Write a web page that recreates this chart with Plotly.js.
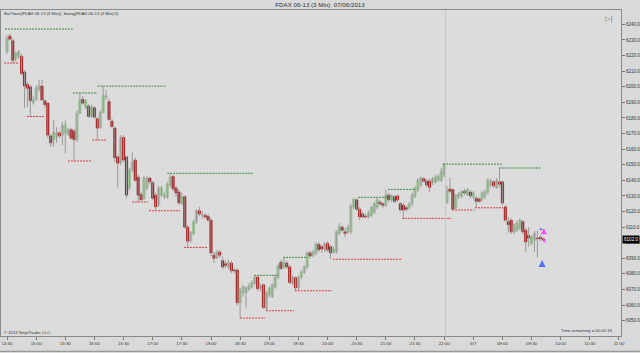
<!DOCTYPE html>
<html><head><meta charset="utf-8">
<script src="https://cdn.plot.ly/plotly-3.0.1.min.js"></script>
<style>html,body{margin:0;padding:0;background:#d9d9d9;} #chart{width:640px;height:353px;}</style>
</head><body><div id="chart"></div>
<script>
// 3-minute FDAX 06-13 bars, 14:30 (6 Jun) .. 09:42 (7 Jun)
const opens = [6222.5,6232.5,6229.5,6218,6219.5,6219.5,6209.5,6201.5,6200,6190,6192,6198,6200.5,6191,6189.5,6168.5,6166,6168,6170.5,6169,6170.5,6169.5,6172.5,6171.5,6166,6183,6192,6187,6187.5,6181,6186.5,6179.5,6174,6183.5,6193.5,6190.5,6178,6173.5,6155,6151.5,6167.5,6155,6135.5,6146.5,6153,6142,6131,6128.5,6135.5,6141.5,6138.5,6130.5,6124,6130.5,6129.5,6129.5,6137,6142.5,6135,6132.5,6125.5,6129.5,6110,6101.5,6106,6113.5,6120.5,6117.5,6117.5,6117,6114.5,6092,6090.5,6094,6088.5,6086.5,6084.5,6087,6082.5,6082.5,6061.5,6068,6068,6070.5,6071.5,6074,6078,6071,6073,6057.5,6066.5,6065.5,6071.5,6078,6087.5,6084.5,6087,6084.5,6074,6077.5,6071,6078,6081,6084.5,6093.5,6092,6093.5,6099,6097.5,6095.5,6099.5,6097.5,6094,6094,6106,6110,6107,6107,6107,6123,6127.5,6121.5,6118.5,6117,6116.5,6117.5,6119.5,6123,6126,6125,6124,6130.5,6127.5,6129.5,6130,6125,6124,6122.5,6122.5,6125,6130,6134,6137,6141,6139.5,6139.5,6138.5,6139,6140,6140,6143.5,
6126,6134.5,6134,6122.5,6129.5,6130,6133,6131,6132.5,6129.5,6128.5,6128,6128,6129.5,6132.5,6137,6139,6135.5,6139,6139,6123,6113.5,6114.5,6107,6108,6109.5,6113.5,6108,6104.5,6099.5,6101.5,6103,6103.5,6102.5];
const highs = [6233,6234,6231,6222.5,6223.5,6221,6210.5,6203,6201,6194,6201,6204.5,6204.5,6192,6190,6169.5,6178.5,6174,6171.5,6177.5,6178.5,6173.5,6173.5,6173,6185,6196,6194,6192,6189,6188.5,6187.5,6180.5,6185,6200.5,6198,6192.5,6179.5,6174.5,6156,6169,6169,6156,6148,6158,6154.5,6143.5,6132.5,6143,6142.5,6142,6139.5,6132,6136.5,6136.5,6132.5,6139,6144.5,6143.5,6136.5,6134,6132,6130.5,6111.5,6107.5,6114.5,6121.5,6123,6120.5,6119,6118.5,6116,6094,6095.5,6095.5,6091,6088.5,6089,6088.5,6083.5,6083.5,6071,6073,6072,6074,6076,6079,6078.5,6074,6074,6069,6072,6074,6079,6086.5,6089,6090.5,6088.5,6085.5,6079,6078.5,6079,6082.5,6085.5,6094.5,6094.5,6095.5,6100.5,6100.5,6098.5,6100.5,6101,6098.5,6097.5,6108,6112.5,6111.5,6109.5,6111.5,6125,6129,6128.5,6123,6120,6118.5,6120.5,6123.5,6126,6128.5,6127.5,6126,6134,6132,6131,6130.5,6131,6126,6125.5,6124,6126,6132,6136.5,6141.5,6142.5,6142,6141,6141,6142,6143.5,6144,6148,6151,
6136.5,6141.5,6135,6131,6132.5,6134,6134.5,6135,6134,6133,6130,6129.5,6133,6134,6141.5,6141,6140,6141.5,6148,6140,6124,6116.5,6115.5,6112.5,6114,6115.5,6114.5,6109.5,6110,6105,6107.5,6108,6105,6103.5];
const lows = [6221,6229.5,6215,6216,6218,6207.5,6186.5,6187,6181,6188.5,6191,6197,6191,6186.5,6167,6161.5,6161.5,6164,6167,6162.5,6157.5,6168.5,6166,6152.5,6164.5,6182.5,6188.5,6185.5,6180,6180,6179.5,6166,6173,6183,6191.5,6178,6173.5,6151.5,6135.5,6149.5,6151.5,6128.5,6133.5,6145.5,6139,6126,6127,6127.5,6133.5,6137.5,6127.5,6120.5,6123,6129.5,6128,6128,6135.5,6133,6129.5,6124,6124,6109,6097,6100,6105,6112,6117,6115.5,6115.5,6113.5,6091.5,6087,6089.5,6090.5,6083,6083.5,6083,6080.5,6080.5,6059.5,6051.5,6065.5,6058.5,6069,6070.5,6073,6069,6069,6057.5,6056.5,6065,6064.5,6070.5,6076.5,6082.5,6083,6083,6073.5,6073,6069,6069.5,6076.5,6080,6083,6090,6090.5,6092,6094,6093.5,6094,6094,6089.5,6093,6093,6105,6107,6103.5,6105.5,6105.5,6121.5,6120.5,6114.5,6115.5,6115.5,6115.5,6116.5,6118.5,6121.5,6123.5,6122.5,6123,6126,6126,6125.5,6126,6120,6115.5,6120,6121,6123.5,6128.5,6132.5,6135.5,6138.5,6135.5,6132.5,6137,6137.5,6139,6139,6142,
6125,6132,6121,6121.5,6128,6128.5,6130.5,6130,6128.5,6128,6122.5,6125.5,6126.5,6128,6131,6135.5,6135,6134.5,6135.5,6124,6113.5,6106.5,6105.5,6105.5,6107,6108,6105.5,6094,6097.5,6098.5,6094,6090.5,6101,6101];
const closes = [6231,6230.5,6217,6221.5,6222.5,6208.5,6200.5,6199,6191,6191.5,6199,6200.5,6191.5,6188.5,6169,6164,6170.5,6170.5,6168.5,6175,6175.5,6172.5,6167,6166,6183,6191.5,6189.5,6191,6181,6187,6180.5,6173.5,6183.5,6194.5,6194,6179,6174.5,6154.5,6151,6167.5,6153,6130.5,6146.5,6151.5,6140,6130.5,6127.5,6141.5,6141.5,6139,6128.5,6123,6135,6135,6130.5,6137.5,6142,6134.5,6132,6125.5,6129.5,6110,6101,6106,6113.5,6120.5,6118.5,6118,6116.5,6114.5,6093.5,6090,6094,6092,6084.5,6085.5,6087.5,6082,6082,6061.5,6069.5,6071.5,6071,6072,6074.5,6078,6070.5,6072,6058.5,6068,6071,6073,6078,6085,6083.5,6087.5,6084.5,6074.5,6078,6071,6078,6081,6084.5,6093.5,6091.5,6094,6099,6095.5,6096,6099,6095.5,6093.5,6096,6107,6110.5,6108,6106,6110,6123.5,6128,6121.5,6116.5,6116.5,6116.5,6119,6122.5,6125,6127.5,6125,6124,6130.5,6127.5,6130,6126.5,6127.5,6121,6121,6121.5,6125,6130.5,6135,6140,6141.5,6139.5,6137,6135.5,6141,6142,6142.5,6145.5,6150.5,
6133.5,6133,6121.5,6130.5,6131,6132.5,6132,6134,6130,6132,6126.5,6126.5,6132,6132.5,6140,6139.5,6136.5,6140,6137.5,6125.5,6114.5,6111.5,6107,6111.5,6112.5,6114.5,6107,6100.5,6103,6103.5,6106,6102.5,6102.5,6102];

// x-axis labels (bar number counted from the 14:30 bar, session gap removed)
const tickLabels = ['14:30','15:00','15:30','16:00','16:30','17:00','17:30','18:00','18:30','19:00','19:30','20:00','20:30','21:00','21:30','22:00','6/7','09:00','09:30','10:00','10:30','11:00'];
const tickBars = [0,10,20,30,40,50,60,70,80,90,100,110,120,130,140,150,160,170,180,190,200,210];
const sessionBreakBar = 150.5;

// Swing(5) levels: price, first bar, last bar
const swingHighLevel = [6237.0,6196.0,6200.4,6144.5,6079.1,6090.6,6129.1,6134.2,6150.4,6147.9];
const swingHighFrom  = [-0.7,22.6,31,55,84.8,94.7,120.5,130.7,149.6,169];
const swingHighTo    = [22.6,31,54.6,84.4,93,102.6,130.7,140,170.2,183.3];
const swingLowLevel  = [6215.2,6180.9,6152.4,6165.8,6126.1,6120.5,6097.0,6051.7,6056.4,6069.2,6089.4,6115.6,6121.0,6122.4];
const swingLowFrom   = [-1,6.9,20.9,29.2,42.9,48.7,60.7,80,88.9,98.8,111.9,135.6,152.7,160.6];
const swingLowTo     = [3.8,12.7,28.8,34.3,48.4,59.4,68.6,88.5,98.5,111.5,135.6,152.4,160.3,170.2];

// trade markers
const sigBar   = [183.2,184.2,184.4,183.6];
const sigPrice = [6108.6,6109.2,6101.3,6089.0];
const sigSym   = ['triangle-up','arrow-up','triangle-left','arrow-up'];
const sigColor = ['#2030ff','#ff10ff','#ff10ff','#2040ff'];
const sigSize  = [3,6,4,7];

const idx = closes.map((_, i) => i);
const isUp = closes.map((c, i) => c >= opens[i]);
const bodyBase = closes.map((c, i) => Math.min(c, opens[i]));
const bodyH = closes.map((c, i) => Math.max(Math.abs(c - opens[i]), 0.35));
const lastPrice = closes[closes.length - 1];

const FONT = 'Liberation Sans, Arial, sans-serif';
const traces = [];
// wicks
traces.push({type:'ohlc', x: idx, open: opens, high: highs, low: lows, close: closes,
  tickwidth: 0, increasing:{line:{color:'#999999', width:1}}, decreasing:{line:{color:'#999999', width:1}},
  hoverinfo:'skip', showlegend:false});
// bodies
traces.push({type:'bar', x: idx, base: bodyBase, y: bodyH, width: 0.8,
  marker:{color: isUp.map(u => u ? '#a6d89c' : '#b80000'),
          line:{color: isUp.map(u => u ? '#86aa82' : '#8c0000'), width: 0.5}},
  hoverinfo:'skip', showlegend:false});
// swing lines
function segs(level, from, to) {
  const x = [], y = [];
  level.forEach((v, k) => { x.push(from[k], to[k], null); y.push(v, v, null); });
  return {x, y};
}
const sh = segs(swingHighLevel, swingHighFrom, swingHighTo);
const sl = segs(swingLowLevel, swingLowFrom, swingLowTo);
traces.push({type:'scatter', mode:'lines', x: sh.x, y: sh.y, line:{color:'#3a8a3a', width:1, dash:'2px,1px'}, hoverinfo:'skip', showlegend:false});
traces.push({type:'scatter', mode:'lines', x: sl.x, y: sl.y, line:{color:'#e43c3c', width:1, dash:'2px,1px'}, hoverinfo:'skip', showlegend:false});
traces.push({type:'scatter', mode:'markers', x: sigBar, y: sigPrice,
  marker:{symbol: sigSym, color: sigColor, size: sigSize, line:{width:0}}, hoverinfo:'skip', showlegend:false});

const layout = {
  width: 640, height: 353,
  margin: {l: 1, r: 19, t: 10, b: 17, pad: 0},
  paper_bgcolor: '#d9d9d9', plot_bgcolor: '#dcdcdc',
  font: {family: FONT, color: '#333', size: 5},
  title: {text: 'FDAX 06-13 (3 Min)  07/06/2013', font: {family: FONT, size: 6.2, color: '#333'},
          x: 0.5, xanchor: 'center', y: 0.986, yanchor: 'middle', yref: 'container'},
  showlegend: false,
  bargap: 0,
  xaxis: {range: [-2.06, 210.69], tickmode: 'array', tickvals: tickBars, ticktext: tickLabels,
          ticks: 'outside', ticklen: 3, tickcolor: '#777', tickwidth: 1,
          tickfont: {family: FONT, size: 4.4, color: '#333'},
          showline: true, mirror: true, linecolor: '#8a8a8a', linewidth: 1,
          showgrid: false, zeroline: false, rangeslider: {visible: false}, fixedrange: true},
  yaxis: {range: [6040.2, 6249.2], side: 'right', tick0: 6050, dtick: 10, tickformat: '.1f',
          ticks: 'outside', ticklen: 3, tickcolor: '#777', tickwidth: 1,
          tickfont: {family: FONT, size: 4.5, color: '#333'},
          showline: true, mirror: true, linecolor: '#8a8a8a', linewidth: 1,
          showgrid: false, zeroline: false, fixedrange: true},
  shapes: [
    {type:'line', xref:'x', yref:'paper', x0: sessionBreakBar, x1: sessionBreakBar, y0: 0, y1: 1,
     line:{color:'#c6c6c6', width:1}},
    {type:'line', xref:'paper', yref:'paper', x0: -0.002, x1: 1.032, y0: -0.047, y1: -0.047,
     line:{color:'#8a8a8a', width:1}}
  ],
  annotations: [
    {xref:'paper', yref:'paper', x: 0.002, y: 0.988, xanchor:'left', yanchor:'middle', showarrow:false,
     text:'BarTimer(FDAX 06-13 (3 Min)), Swing(FDAX 06-13 (3 Min),5)', font:{family:FONT, size:4.2, color:'#333'}},
    {xref:'paper', yref:'paper', x: 0.001, y: 0.01, xanchor:'left', yanchor:'middle', showarrow:false,
     text:'© 2013 NinjaTrader, LLC', font:{family:FONT, size:4.2, color:'#333'}},
    {xref:'paper', yref:'paper', x: 0.99, y: 0.016, xanchor:'right', yanchor:'middle', showarrow:false,
     text:'Time remaining = 00:02:16', font:{family:FONT, size:4.3, color:'#333'}},
    {xref:'paper', yref:'paper', x: 0.99, y: 0.972, xanchor:'right', yanchor:'middle', showarrow:false,
     text:'▷|', font:{family:'DejaVu Sans', size:7, color:'#777'}},
    {xref:'paper', yref:'y', x: 1.002, y: lastPrice, xanchor:'left', yanchor:'middle', showarrow:false,
     text: lastPrice.toFixed(1), bgcolor:'#000', font:{family:FONT, size:4.6, color:'#fff'}, borderpad: 1}
  ]
};
Plotly.newPlot('chart', traces, layout, {staticPlot: true, displayModeBar: false});
</script>
</body></html>
